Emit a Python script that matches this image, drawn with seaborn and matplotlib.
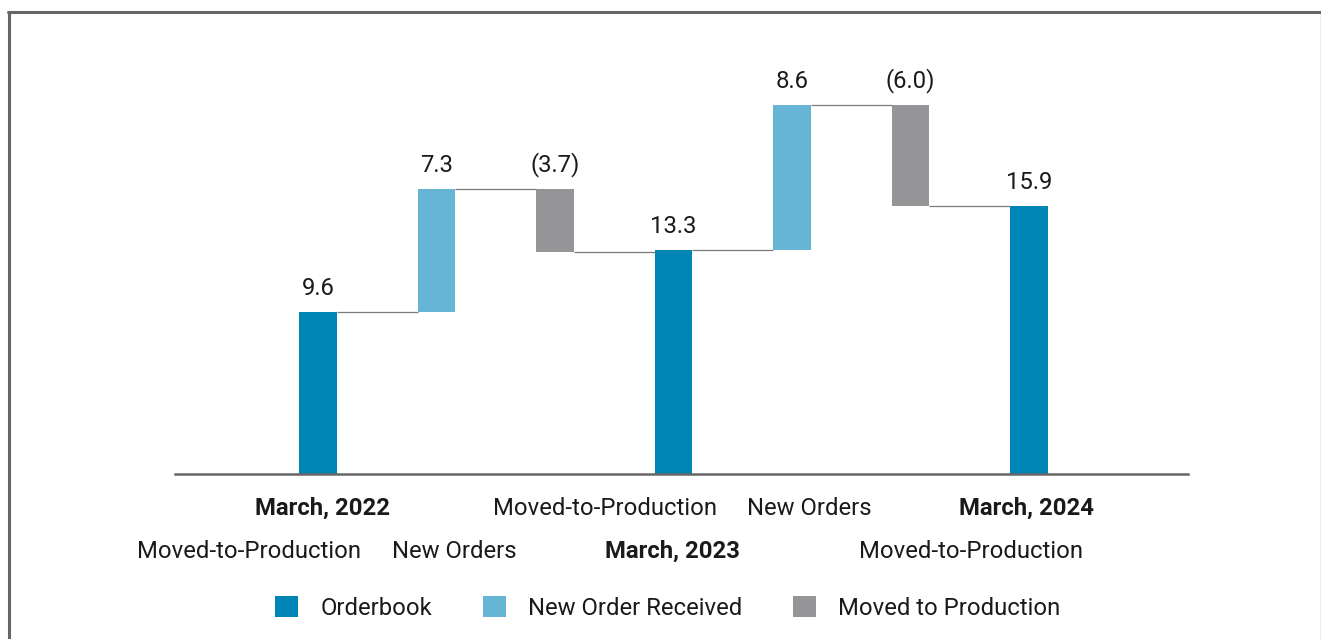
import numpy as np
import pandas as pd
import matplotlib
matplotlib.use("Agg")
import matplotlib.pyplot as plt
import seaborn as sns
from matplotlib.patches import Patch
from matplotlib.lines import Line2D

sns.set_theme(style="white")
plt.rcParams["font.family"] = ["Roboto", "DejaVu Sans"]

# Orderbook waterfall (in units as reported)
kinds = ["Orderbook", "New Order Received", "Moved to Production", "Orderbook",
         "New Order Received", "Moved to Production", "Orderbook"]
values = [9.6, 7.3, -3.7, 13.3, 8.6, -6.0, 15.9]

kind_order = ["Orderbook", "New Order Received", "Moved to Production"]
kind_colors = ["#0086B6", "#67B5D5", "#959598"]

axis_labels = ["Moved-to-Production", "March, 2022", "New Orders", "Moved-to-Production",
               "March, 2023", "New Orders", "Moved-to-Production", "March, 2024"]
label_x = [-0.585, 0.04, 1.15, 2.42, 2.99, 4.15, 5.51, 5.98]
label_row = [1, 0, 1, 0, 1, 0, 1, 0]

# floating bar geometry from the running total
bottoms, heights, ends = [], [], []
running = 0.0
for k, v in zip(kinds, values):
    if k == "Orderbook":
        bottoms.append(0.0)
        heights.append(v)
        running = v
    else:
        start, end = running, running + v
        bottoms.append(min(start, end))
        heights.append(abs(v))
        running = end
    ends.append(running)

df = pd.DataFrame({"step": np.arange(len(values)), "kind": kinds,
                   "bottom": bottoms, "height": heights})

W, H = 1321, 639
fig = plt.figure(figsize=(W / 100, H / 100), dpi=100)
ax_left, ax_right, ax_bottom, ax_top = 175, 1188, 474, 12
ax = fig.add_axes([ax_left / W, 1 - ax_bottom / H,
                   (ax_right - ax_left) / W, (ax_bottom - ax_top) / H])

bar_width = 0.32
sns.barplot(data=df, x="step", y="height", hue="kind", hue_order=kind_order,
            palette=kind_colors, dodge=False, width=bar_width, errorbar=None,
            saturation=1, legend=False, ax=ax)

# lift each bar onto its running-total base
for bar in ax.patches:
    idx = int(round(bar.get_x() + bar.get_width() / 2))
    bar.set_y(df.loc[idx, "bottom"])
    bar.set_edgecolor("none")

# connectors between consecutive bars
for i in range(len(values) - 1):
    ax.plot([i + bar_width / 2, i + 1 - bar_width / 2], [ends[i], ends[i]],
            color="#7a7a7a", lw=0.9, solid_capstyle="butt", zorder=1)

fs = 17.2

# value labels
for i, (v, b, h) in enumerate(zip(values, bottoms, heights)):
    txt = f"{v:.1f}" if v >= 0 else f"({abs(v):.1f})"
    ax.annotate(txt, xy=(i, b + h), xytext=(0, 12.5), textcoords="offset points",
                ha="center", va="baseline", fontsize=fs, color="#1a1a1a")

# staggered category labels below the axis
row_offsets = [-25, -55.5]
for text, x, row in zip(axis_labels, label_x, label_row):
    ax.annotate(text, xy=(x, 0), xycoords=("data", "axes fraction"),
                xytext=(0, row_offsets[row]), textcoords="offset points",
                ha="center", va="center", fontsize=fs, color="#1a1a1a",
                fontweight="bold" if text.startswith("March") else "normal",
                annotation_clip=False)

ax.set_xlim(-1.207, 7.342)
ax.set_ylim(0, (ax_bottom - ax_top) / 16.85)
ax.set_xticks([])
ax.set_yticks([])
ax.set_xlabel("")
ax.set_ylabel("")
for side in ["top", "left", "right"]:
    ax.spines[side].set_visible(False)
ax.spines["bottom"].set_color("#666666")
ax.spines["bottom"].set_linewidth(1.8)

handles = [Patch(facecolor=c, edgecolor="none", label=k) for k, c in zip(kind_order, kind_colors)]
fig.legend(handles=handles, loc="center", bbox_to_anchor=(668 / W, 1 - 608 / H),
           ncol=3, frameon=False, fontsize=fs, handlelength=0.96, handleheight=0.96,
           handletextpad=0.95, columnspacing=2.1, labelcolor="#1a1a1a")

# outer frame
frame_color = "#666666"
fig.add_artist(Line2D([8 / W, 1], [1 - 11.5 / H] * 2, color=frame_color, lw=2.2,
                      transform=fig.transFigure))
fig.add_artist(Line2D([8.5 / W] * 2, [0, 1 - 11.5 / H], color=frame_color, lw=2.2,
                      transform=fig.transFigure))
fig.add_artist(Line2D([1320.5 / W] * 2, [0, 1 - 11.5 / H], color=frame_color, lw=0.9,
                      transform=fig.transFigure))

fig.savefig("out.png", dpi=100, facecolor="white")
